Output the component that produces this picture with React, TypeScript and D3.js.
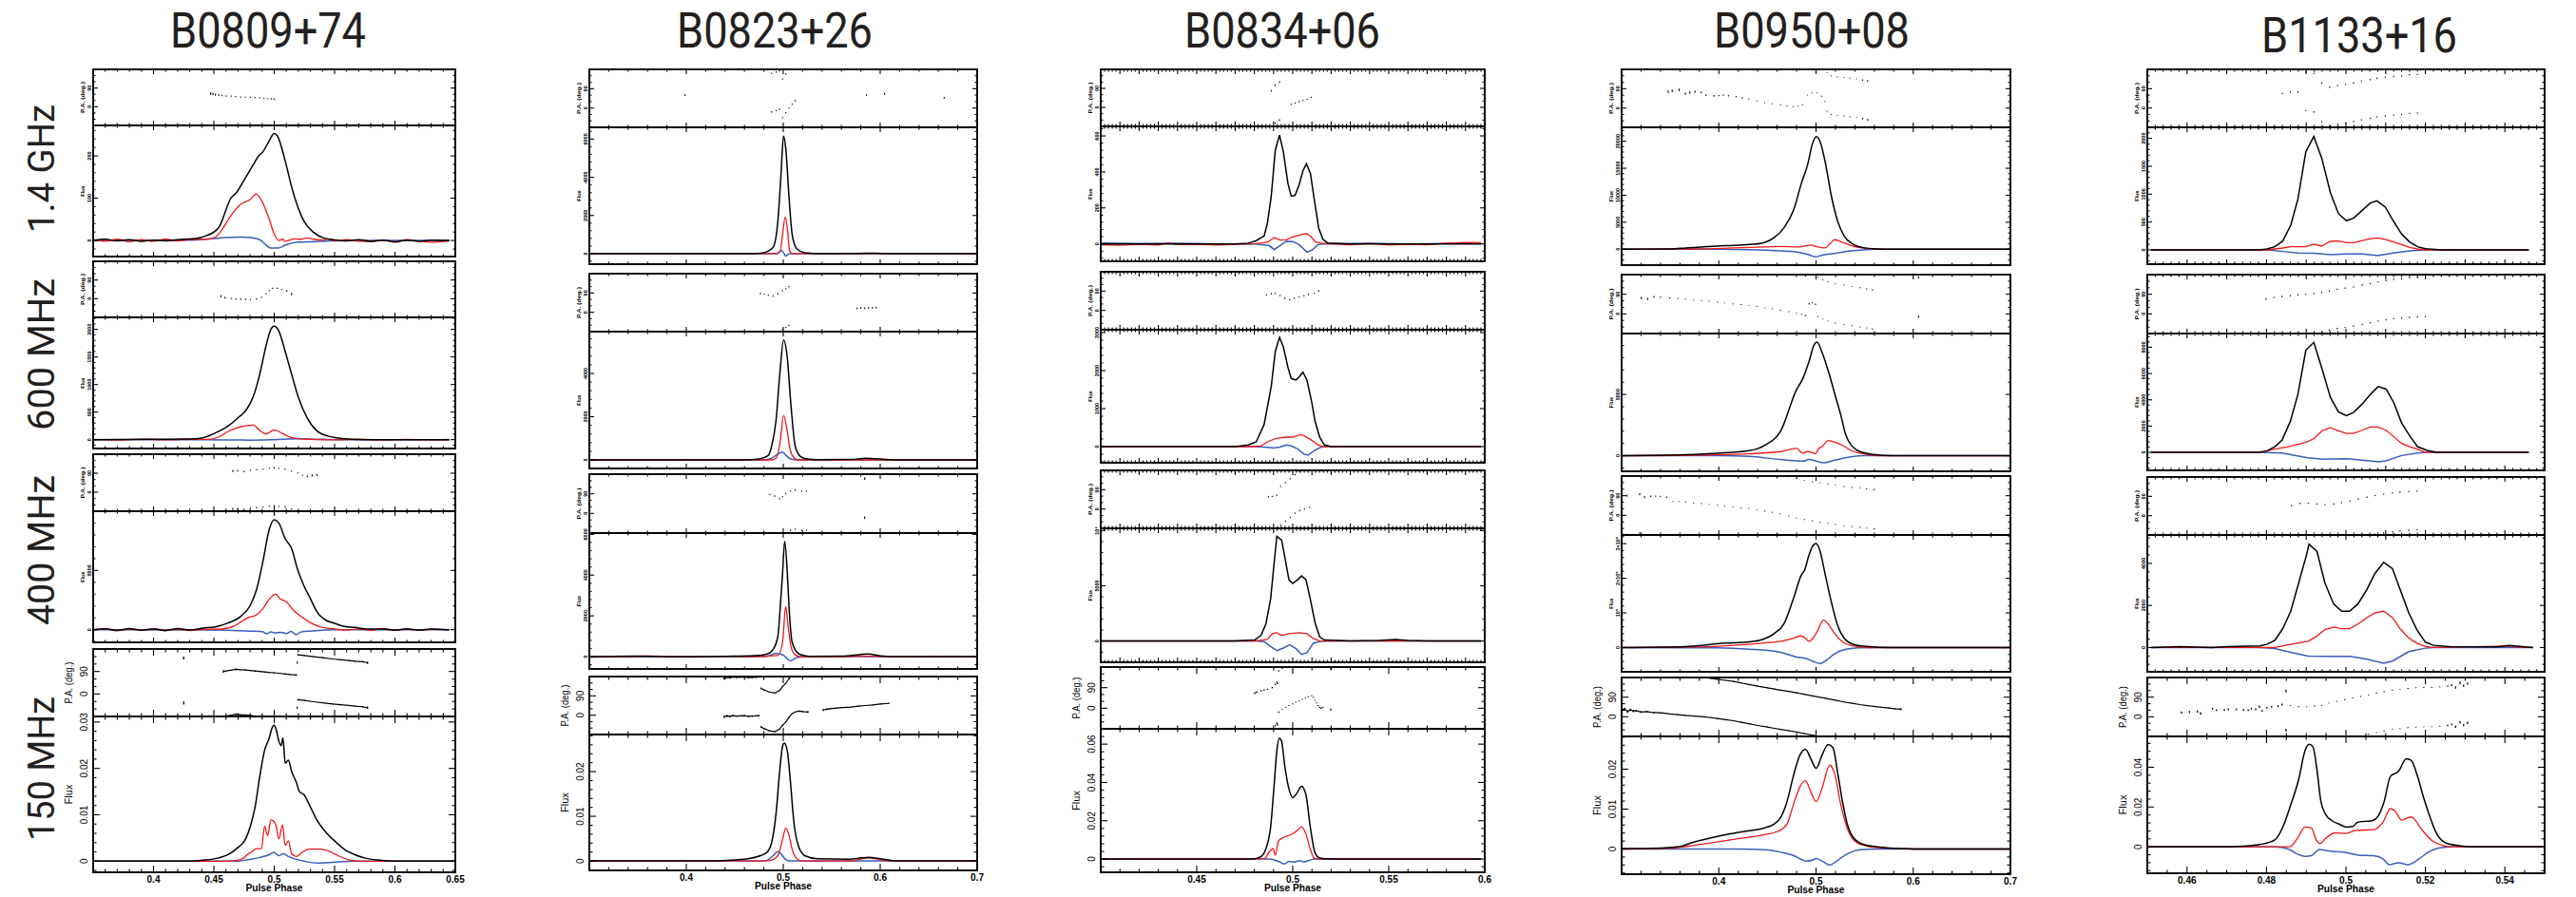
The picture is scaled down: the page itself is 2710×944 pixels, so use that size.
import React from "react";
import * as d3 from "d3";

type Pt = [number, number];
type PaPt = [number, number, number];

// ---------------- titles / labels ----------------
const pulsarNames = ["B0809+74", "B0823+26", "B0834+06", "B0950+08", "B1133+16"];
const bandLabels = ["1.4 GHz", "600 MHz", "400 MHz", "150 MHz"];

// ---------------- B0809+74 ----------------
const i0809_1400: Pt[] = [[0.35,0],[0.36,3],[0.37,-1],[0.38,2],[0.39,-2],[0.40,1],[0.41,-1],[0.42,2],[0.4329,4],[0.4435,11],[0.4539,30],[0.4644,101],[0.4684,112],[0.4749,142],[0.4828,180],[0.4868,199],[0.4907,210],[0.4959,236],[0.4999,253],[0.5025,248],[0.5091,188],[0.5143,128],[0.5196,79],[0.5248,45],[0.5327,19],[0.5406,6],[0.5484,2],[0.56,-1],[0.57,2],[0.58,-2],[0.59,1],[0.60,-3],[0.61,1],[0.62,-2],[0.63,1],[0.645,0]];
const l0809_1400: Pt[] = [[0.35,2],[0.36,-2],[0.37,3],[0.38,-3],[0.39,2],[0.40,-2],[0.41,3],[0.42,-1],[0.43,2],[0.445,3],[0.4513,8],[0.4566,25],[0.4644,60],[0.472,85],[0.480,97],[0.485,110],[0.490,92],[0.4959,50],[0.5,15],[0.504,0],[0.507,3],[0.509,-2],[0.517,4],[0.522,3],[0.5275,6],[0.533,3],[0.54,1],[0.546,4],[0.55,-1],[0.56,2],[0.57,-2],[0.58,-3],[0.59,1],[0.60,-4],[0.61,2],[0.62,-2],[0.63,-4],[0.645,-1]];
const v0809_1400: Pt[] = [[0.35,0],[0.43,1],[0.455,6],[0.47,8],[0.48,7],[0.488,2],[0.493,-10],[0.497,-18],[0.503,-18],[0.51,-10],[0.52,-4],[0.54,-2],[0.56,0],[0.645,0]];
const pa0809_1400: PaPt[] = [[0.4474,63,7],[0.4493,61,6],[0.4513,58,5],[0.454,56,4],[0.4566,54,3],[0.46,52,3],[0.4644,51,3],[0.468,49,3],[0.4723,47,3],[0.476,46,3],[0.4802,46,3],[0.484,44,3],[0.4881,43,3],[0.4915,41,3],[0.4946,39,3],[0.4975,38,3],[0.4999,36,4]];

const i0809_600: Pt[] = [[0.35,0],[0.40,5],[0.43,10],[0.4408,34],[0.4539,150],[0.4618,247],[0.4697,390],[0.4776,563],[0.4828,793],[0.4881,1195],[0.4933,1712],[0.4972,2000],[0.4999,2057],[0.5038,1971],[0.5091,1598],[0.5143,1195],[0.5196,793],[0.5274,390],[0.5353,161],[0.5458,57],[0.5589,17],[0.5747,0],[0.645,0]];
const l0809_600: Pt[] = [[0.35,5],[0.37,-8],[0.39,10],[0.41,-5],[0.43,8],[0.445,5],[0.4539,46],[0.4618,150],[0.4697,218],[0.475,247],[0.4828,264],[0.4868,190],[0.4933,103],[0.4972,150],[0.5,178],[0.505,132],[0.5117,57],[0.5196,17],[0.53,5],[0.55,-5],[0.57,8],[0.59,-6],[0.61,5],[0.63,-4],[0.645,3]];
const v0809_600: Pt[] = [[0.35,0],[0.44,-2],[0.46,-6],[0.48,-8],[0.50,0],[0.52,14],[0.54,5],[0.56,0],[0.645,0]];
const pa0809_600: PaPt[] = [[0.4558,12,5],[0.4592,4,4],[0.4644,1,3],[0.4684,-1,3],[0.4723,-2,3],[0.4762,-3,3],[0.4802,-4,3],[0.4854,-2,3],[0.4894,7,3],[0.4933,24,3],[0.4959,39,3],[0.4986,50,3],[0.5025,50,3],[0.5065,44,3],[0.5104,38,4],[0.5143,22,6]];

const i0809_400: Pt[] = [[0.35,0],[0.36,80],[0.37,-60],[0.38,100],[0.39,-40],[0.40,60],[0.41,-80],[0.42,90],[0.43,-30],[0.4408,134],[0.4513,240],[0.4618,560],[0.4723,1123],[0.4802,2059],[0.4854,3396],[0.4907,5803],[0.4959,8477],[0.4999,9279],[0.5038,9011],[0.5091,7674],[0.5143,6872],[0.5196,5000],[0.5248,3663],[0.5301,2594],[0.5353,1524],[0.5432,775],[0.5484,588],[0.5563,321],[0.5668,187],[0.5773,53],[0.59,60],[0.60,-50],[0.61,70],[0.62,-40],[0.63,50],[0.645,0]];
const l0809_400: Pt[] = [[0.35,-40],[0.36,60],[0.37,-80],[0.38,50],[0.39,-60],[0.40,80],[0.41,-50],[0.42,40],[0.43,-70],[0.44,30],[0.4566,53],[0.467,321],[0.4776,989],[0.4854,1257],[0.4907,1791],[0.4959,2594],[0.5012,2995],[0.5051,2594],[0.5104,2326],[0.5157,1658],[0.5222,1123],[0.5301,588],[0.538,240],[0.5484,80],[0.56,-30],[0.57,60],[0.58,-70],[0.59,100],[0.60,-40],[0.61,50],[0.62,-60],[0.63,40],[0.645,-20]];
const v0809_400: Pt[] = [[0.35,0],[0.44,-20],[0.46,-50],[0.48,-120],[0.49,-160],[0.494,-350],[0.497,-180],[0.50,-260],[0.506,-220],[0.51,-320],[0.514,-150],[0.518,-420],[0.522,-200],[0.53,-120],[0.54,-50],[0.55,0],[0.645,0]];
const pa0809_400: PaPt[] = [[0.4657,101,5],[0.4697,102,4],[0.4749,98,3],[0.4802,104,3],[0.4854,107,3],[0.4907,110,3],[0.4959,113,3],[0.4999,116,3],[0.5038,113,3],[0.5091,109,3],[0.5143,101,3],[0.5196,92,3],[0.5235,79,3],[0.5274,75,4],[0.5314,79,5],[0.5353,82,5]];

const i0809_150: Pt[] = [[0.35,0],[0.43,0],[0.4408,0.0002],[0.4539,0.0007],[0.4618,0.0014],[0.4697,0.0029],[0.4763,0.0048],[0.4802,0.0075],[0.4841,0.0116],[0.4881,0.0184],[0.492,0.0239],[0.4959,0.0266],[0.498,0.0286],[0.4999,0.0293],[0.5017,0.0283],[0.5038,0.0259],[0.5057,0.0249],[0.5072,0.0266],[0.5091,0.0211],[0.5117,0.0218],[0.5143,0.0194],[0.5183,0.0170],[0.5209,0.0150],[0.5248,0.0143],[0.5301,0.0116],[0.5353,0.0089],[0.5432,0.0061],[0.5511,0.0041],[0.5589,0.0024],[0.5668,0.0014],[0.5747,0.0007],[0.5878,0.0002],[0.60,0],[0.65,0]];
const l0809_150: Pt[] = [[0.35,0],[0.46,0],[0.467,0.0001],[0.4749,0.0007],[0.4776,0.0014],[0.4815,0.002],[0.4854,0.0027],[0.4894,0.0027],[0.492,0.0075],[0.4946,0.0055],[0.4972,0.0089],[0.4999,0.0085],[0.5017,0.0075],[0.5038,0.0048],[0.5069,0.0078],[0.5091,0.0034],[0.5117,0.0044],[0.5143,0.0017],[0.5183,0.001],[0.5222,0.0017],[0.5288,0.0026],[0.5353,0.0026],[0.5432,0.0024],[0.5511,0.0014],[0.5616,0.0003],[0.572,0],[0.65,0]];
const v0809_150: Pt[] = [[0.35,0],[0.47,0],[0.4776,0.0003],[0.4881,0.0008],[0.4959,0.0014],[0.4999,0.0019],[0.5038,0.0012],[0.5078,0.0016],[0.5117,0.001],[0.517,0.0005],[0.5248,0],[0.5353,-0.0004],[0.5458,-0.0003],[0.5563,-0.0001],[0.565,0],[0.65,0]];
const pa0809_150: PaPt[] = [[0.425,144,6],[0.4579,90,5],[0.4684,99,3],[0.472,97,2],[0.476,96,2],[0.4802,94,2],[0.484,92,2],[0.488,90,2],[0.492,88,2],[0.496,86,2],[0.4999,85,2],[0.504,83,2],[0.5091,80,2],[0.513,78,2],[0.5183,76,3],[0.519,125,4],[0.5196,157,3],[0.525,154,2],[0.5327,149,2],[0.54,145,2],[0.5484,140,2],[0.555,137,2],[0.5616,134,2],[0.567,131,2],[0.5733,129,3],[0.5773,125,5]];

// ---------------- B0823+26 ----------------
const i0823_1400: Pt[] = [[0.3,0],[0.47,0],[0.4797,50],[0.4895,333],[0.4944,1667],[0.4977,4167],[0.5003,6167],[0.5026,5500],[0.5059,3000],[0.5092,1000],[0.5141,250],[0.5222,50],[0.54,0],[0.58,10],[0.59,25],[0.60,15],[0.62,0],[0.7,0]];
const l0823_1400: Pt[] = [[0.3,0],[0.49,0],[0.4967,83],[0.4993,1000],[0.502,1917],[0.5042,1333],[0.5065,167],[0.51,0],[0.7,0]];
const v0823_1400: Pt[] = [[0.3,0],[0.494,0],[0.4977,167],[0.501,0],[0.5026,-133],[0.506,0],[0.7,0]];
const pa0823_1400: PaPt[] = [[0.3987,60,4],[0.488,-18,3],[0.4928,-12,3],[0.4961,-7,3],[0.4993,-45,3],[0.5026,-22,3],[0.5059,0,3],[0.5092,18,3],[0.5124,33,3],[0.5858,60,4],[0.6045,66,4],[0.666,48,4]];

const i0823_600: Pt[] = [[0.3,0],[0.46,0],[0.475,40],[0.4845,200],[0.4879,615],[0.4925,1800],[0.4965,4000],[0.5003,5540],[0.504,4800],[0.508,2500],[0.5124,615],[0.518,150],[0.525,40],[0.535,10],[0.57,20],[0.585,73],[0.60,40],[0.62,0],[0.7,0]];
const l0823_600: Pt[] = [[0.3,0],[0.488,0],[0.493,100],[0.497,900],[0.5003,2060],[0.5035,1500],[0.507,500],[0.511,100],[0.515,0],[0.7,0]];
const v0823_600: Pt[] = [[0.3,0],[0.48,0],[0.488,80],[0.495,280],[0.499,365],[0.503,200],[0.508,40],[0.515,0],[0.7,0]];
const pa0823_600: PaPt[] = [[0.4765,87,3],[0.4805,84,3],[0.4846,80,3],[0.4895,76,3],[0.4944,86,3],[0.4993,100,3],[0.5026,110,3],[0.5059,119,3],[0.5762,18,4],[0.58,20,4],[0.584,19,4],[0.588,20,4],[0.592,21,4],[0.5958,22,4]];

const i0823_400: Pt[] = [[0.3,0],[0.35,20],[0.40,-15],[0.44,15],[0.4699,50],[0.483,120],[0.4895,360],[0.4944,980],[0.497,2500],[0.4993,4100],[0.5015,5650],[0.5042,4100],[0.5059,2500],[0.5092,700],[0.5157,150],[0.5222,50],[0.53,10],[0.56,20],[0.5876,124],[0.60,40],[0.62,0],[0.7,0]];
const l0823_400: Pt[] = [[0.3,20],[0.33,-20],[0.36,25],[0.40,-10],[0.44,20],[0.47,0],[0.4944,50],[0.4993,700],[0.5025,2450],[0.505,1500],[0.508,500],[0.512,100],[0.518,0],[0.55,-20],[0.58,30],[0.62,-20],[0.66,15],[0.7,0]];
const v0823_400: Pt[] = [[0.3,-20],[0.48,0],[0.486,50],[0.492,150],[0.498,120],[0.502,0],[0.505,-150],[0.508,-200],[0.512,-80],[0.52,0],[0.7,0]];
const pa0823_400: PaPt[] = [[0.4863,87,3],[0.4912,80,3],[0.4961,68,3],[0.4993,76,3],[0.5026,90,3],[0.5075,102,3],[0.5124,107,3],[0.519,102,3],[0.5239,102,3],[0.584,160,6]];

const i0823_150: Pt[] = [[0.3,0],[0.43,0],[0.4373,0.0001],[0.4634,0.0005],[0.4765,0.0012],[0.483,0.0019],[0.4879,0.004],[0.4928,0.0111],[0.4961,0.0196],[0.4993,0.0257],[0.501,0.0264],[0.5042,0.0246],[0.5075,0.0175],[0.5108,0.009],[0.5157,0.0033],[0.5222,0.0012],[0.5353,0.0005],[0.568,0.0004],[0.581,0.0007],[0.5876,0.0008],[0.6007,0.0005],[0.617,0],[0.7,0]];
const l0823_150: Pt[] = [[0.3,0],[0.48,0],[0.4863,0.0001],[0.4944,0.0012],[0.4993,0.0048],[0.5026,0.0074],[0.5059,0.0058],[0.5092,0.0026],[0.5141,0.0005],[0.52,0],[0.57,0],[0.581,0.0005],[0.5876,0.0007],[0.5974,0.0004],[0.61,0],[0.7,0]];
const v0823_150: Pt[] = [[0.3,0],[0.48,0],[0.483,0.0001],[0.4895,0.0012],[0.4944,0.0021],[0.4977,0.0016],[0.5026,0.0003],[0.507,0],[0.7,0]];
const pa0823_150: PaPt[] = [[0.439,-8,5],[0.442,-3,5],[0.445,-6,4],[0.448,-2,4],[0.452,-4,3],[0.456,-3,3],[0.46,-2,3],[0.464,-5,3],[0.468,-4,3],[0.472,-3,3],[0.4748,-2,4],[0.4771,-55,4],[0.4801,-62,3],[0.4853,-72,2],[0.4912,-77,2],[0.4961,-65,2],[0.4993,-47,2],[0.5026,-32,2],[0.5059,-10,2],[0.5092,8,2],[0.5124,15,2],[0.516,19,3],[0.52,17,3],[0.5255,15,4],[0.5412,25,5],[0.545,28,4],[0.548,30,3],[0.555,33,2],[0.5625,36,2],[0.57,38,2],[0.5775,42,2],[0.585,45,2],[0.5925,48,2],[0.6,52,2],[0.6088,55,3]];

// ---------------- B0834+06 ----------------
const i0834_1400: Pt[] = [[0.4,0],[0.47,0],[0.4769,4],[0.481,18],[0.4851,44],[0.4868,115],[0.4888,265],[0.4909,521],[0.4931,605],[0.4951,512],[0.4975,335],[0.4992,265],[0.5012,270],[0.5033,327],[0.5053,406],[0.5071,445],[0.5092,392],[0.5112,247],[0.5135,88],[0.5157,26],[0.5181,5],[0.53,0],[0.598,0]];
const l0834_1400: Pt[] = [[0.4,-5],[0.41,-8],[0.42,-3],[0.43,-6],[0.435,5],[0.44,-4],[0.45,-2],[0.46,-6],[0.47,-3],[0.48,0],[0.4868,9],[0.4904,35],[0.4934,21],[0.4967,23],[0.5,39],[0.505,53],[0.5074,56],[0.5099,35],[0.5116,12],[0.5149,4],[0.52,0],[0.53,-5],[0.54,3],[0.55,-6],[0.56,-2],[0.57,-5],[0.58,4],[0.59,8],[0.598,6]];
const v0834_1400: Pt[] = [[0.4,5],[0.42,2],[0.44,4],[0.46,0],[0.48,0],[0.4876,-9],[0.4904,-32],[0.4934,-9],[0.4967,14],[0.5,12],[0.5033,-4],[0.5074,-46],[0.5099,-35],[0.5132,-4],[0.516,0],[0.54,4],[0.56,0],[0.58,2],[0.598,4]];
const pa0834_1400: PaPt[] = [[0.4888,78,4],[0.4909,105,4],[0.4931,120,4],[0.4992,15,3],[0.5012,21,3],[0.5033,27,3],[0.5053,33,3],[0.5074,39,3],[0.5096,48,3]];

const i0834_600: Pt[] = [[0.4,0],[0.47,0],[0.4769,42],[0.481,125],[0.4851,583],[0.4888,1583],[0.4909,2500],[0.4931,2875],[0.4951,2625],[0.4975,2083],[0.4992,1792],[0.5017,1750],[0.5033,1833],[0.5053,1958],[0.5074,1750],[0.5099,1167],[0.5116,667],[0.514,250],[0.5165,42],[0.52,0],[0.598,0]];
const l0834_600: Pt[] = [[0.4,0],[0.48,0],[0.4835,17],[0.4868,125],[0.4909,208],[0.4967,250],[0.5,250],[0.5041,317],[0.5058,292],[0.5099,167],[0.5132,42],[0.516,0],[0.598,0]];
const v0834_600: Pt[] = [[0.4,0],[0.48,0],[0.4868,-20],[0.49,-40],[0.4934,-10],[0.4967,45],[0.4992,20],[0.5025,-60],[0.506,-200],[0.508,-225],[0.5115,-100],[0.5148,-10],[0.518,0],[0.598,0]];
const pa0834_600: PaPt[] = [[0.4863,72,3],[0.4888,78,3],[0.4909,80,3],[0.4934,69,3],[0.4959,57,3],[0.4984,50,3],[0.5008,57,3],[0.5033,62,3],[0.5058,68,3],[0.5082,75,3],[0.5112,80,3],[0.5135,90,4]];

const i0834_400: Pt[] = [[0.4,0],[0.47,0],[0.4802,86],[0.4835,517],[0.486,1523],[0.4885,3822],[0.4901,6696],[0.4917,9484],[0.4942,9139],[0.4959,7558],[0.498,5547],[0.5,5202],[0.5025,5547],[0.5046,5892],[0.5069,5547],[0.5091,3822],[0.5116,1667],[0.514,374],[0.5165,86],[0.53,0],[0.545,60],[0.5536,144],[0.56,50],[0.57,0],[0.598,0]];
const l0834_400: Pt[] = [[0.4,0],[0.48,0],[0.4868,144],[0.4893,661],[0.4917,747],[0.4942,517],[0.4983,661],[0.5033,747],[0.5074,661],[0.5107,230],[0.514,29],[0.52,0],[0.598,0]];
const v0834_400: Pt[] = [[0.4,0],[0.48,0],[0.4851,-57],[0.4885,-489],[0.4917,-862],[0.4951,-632],[0.4983,-345],[0.5017,-690],[0.5046,-1207],[0.5074,-1063],[0.5107,-201],[0.514,-29],[0.52,0],[0.598,0]];
const pa0834_400: PaPt[] = [[0.4873,57,3],[0.4893,59,3],[0.4917,64,3],[0.4937,-75,3],[0.4962,-57,3],[0.4987,-39,3],[0.5012,-20,3],[0.5036,-7,3],[0.5061,0,3],[0.5088,7,3]];

const i0834_150: Pt[] = [[0.4,0],[0.47,0],[0.4802,0.0002],[0.4835,0.0013],[0.486,0.0054],[0.4885,0.017],[0.4904,0.04],[0.4917,0.0565],[0.4931,0.063],[0.4942,0.0614],[0.4959,0.0482],[0.498,0.0367],[0.5,0.0321],[0.502,0.0342],[0.5046,0.038],[0.5069,0.0334],[0.5091,0.017],[0.5112,0.0046],[0.5132,0.001],[0.5165,0.0002],[0.53,0],[0.598,0]];
const l0834_150: Pt[] = [[0.4,0],[0.48,0],[0.4851,0.0002],[0.4881,0.0041],[0.4898,0.0054],[0.4909,0.0021],[0.4926,0.0095],[0.4951,0.0112],[0.4992,0.0128],[0.5025,0.015],[0.5046,0.017],[0.5066,0.0137],[0.5091,0.0054],[0.5112,0.0005],[0.515,0],[0.598,0]];
const v0834_150: Pt[] = [[0.4,0],[0.4868,0],[0.4926,-0.0012],[0.4954,-0.0025],[0.4984,-0.0012],[0.5008,-0.0016],[0.5033,-0.0008],[0.5058,-0.0015],[0.5082,-0.0008],[0.5115,0],[0.598,0]];
const pa0834_150: PaPt[] = [[0.4802,66,4],[0.4812,70,4],[0.4835,76,3],[0.4851,79,3],[0.4868,83,3],[0.4893,90,3],[0.4909,104,3],[0.4917,114,3],[0.492,-71,4],[0.4927,-17,3],[0.4945,-6,2],[0.4963,4,2],[0.498,12,2],[0.5,19,2],[0.5016,26,2],[0.5033,33,2],[0.505,39,2],[0.5066,44,2],[0.5082,50,2],[0.5099,54,2],[0.5107,47,2],[0.5115,35,2],[0.5124,23,2],[0.5132,12,2],[0.514,4,3],[0.5148,0,3],[0.5157,4,3],[0.5198,-6,4]];

// ---------------- B0950+08 ----------------
const i0950_1400: Pt[] = [[0.3,0],[0.3496,60],[0.3659,235],[0.3822,410],[0.3985,590],[0.4148,705],[0.4311,880],[0.4441,1120],[0.4572,2175],[0.4669,3940],[0.4767,7170],[0.4849,12170],[0.4914,15700],[0.4963,19520],[0.5002,20870],[0.5044,19815],[0.5093,16290],[0.5158,9820],[0.5224,5115],[0.5289,2470],[0.5387,880],[0.5484,295],[0.5615,60],[0.58,0],[0.7,0]];
const l0950_1400: Pt[] = [[0.3,0],[0.3822,60],[0.4148,235],[0.4474,410],[0.4637,530],[0.4832,410],[0.4897,650],[0.4946,765],[0.4995,530],[0.5093,235],[0.5142,1000],[0.5191,1765],[0.5256,1410],[0.5354,705],[0.5452,295],[0.5582,60],[0.57,0],[0.7,0]];
const v0950_1400: Pt[] = [[0.3,0],[0.3985,0],[0.4311,-60],[0.4637,-295],[0.4832,-590],[0.493,-1060],[0.4995,-1410],[0.506,-1120],[0.5191,-765],[0.5289,-470],[0.5452,-175],[0.5615,0],[0.7,0]];
const pa0950_1400: PaPt[] = [[0.3479,75,6],[0.352,80,6],[0.3591,84,6],[0.3656,67,5],[0.37,72,5],[0.3754,75,5],[0.3819,72,4],[0.3868,60,4],[0.3949,57,4],[0.4,58,3],[0.4047,60,3],[0.41,57,3],[0.4178,52,3],[0.424,47,3],[0.4308,42,2],[0.439,33,2],[0.4471,25,2],[0.455,20,2],[0.4634,15,2],[0.47,11,2],[0.4765,7,2],[0.4815,9,2],[0.4862,15,2],[0.4911,60,2],[0.496,70,2],[0.5009,72,2],[0.5058,55,2],[0.5091,30,2],[0.5113,-15,2],[0.5156,-30,2],[0.522,-34,2],[0.5286,-37,2],[0.535,-41,2],[0.5417,-45,2],[0.548,-50,3],[0.5531,-55,4]];

const i0950_600: Pt[] = [[0.3,0],[0.3658,78],[0.3984,202],[0.431,412],[0.4473,855],[0.4636,2022],[0.4799,5389],[0.4864,6299],[0.4929,7721],[0.4978,9020],[0.501,9277],[0.5059,8499],[0.5125,6944],[0.519,5132],[0.5255,3313],[0.5304,1757],[0.5418,467],[0.5516,202],[0.5614,78],[0.5777,0],[0.7,0]];
const l0950_600: Pt[] = [[0.3,0],[0.3984,78],[0.431,156],[0.4636,334],[0.4799,591],[0.4864,202],[0.4913,334],[0.4962,257],[0.4994,156],[0.5027,591],[0.5059,723],[0.5125,1244],[0.519,1112],[0.5288,778],[0.5353,450],[0.545,200],[0.555,78],[0.565,0],[0.7,0]];
const v0950_600: Pt[] = [[0.3,0],[0.4,0],[0.431,-54],[0.4636,-311],[0.4864,-443],[0.4929,-311],[0.5075,-575],[0.519,-365],[0.5353,-100],[0.5516,0],[0.7,0]];
const pa0950_600: PaPt[] = [[0.3202,73,5],[0.3267,68,5],[0.3332,78,4],[0.34,76,3],[0.3495,73,3],[0.358,70,2],[0.3658,68,2],[0.374,65,2],[0.3821,61,2],[0.39,58,2],[0.3984,54,2],[0.406,50,2],[0.4147,46,2],[0.423,43,2],[0.431,39,2],[0.439,34,2],[0.4473,28,2],[0.455,23,2],[0.4636,17,2],[0.472,10,2],[0.4799,3,2],[0.485,-2,2],[0.489,-7,3],[0.4929,46,3],[0.4962,51,3],[0.4995,44,3],[0.502,-12,2],[0.507,-24,2],[0.5125,-33,2],[0.52,-41,2],[0.5288,-48,2],[0.537,-54,2],[0.5451,-60,2],[0.552,-65,2],[0.5581,-70,3],[0.6055,-13,5]];

const i0950_400: Pt[] = [[0.3,0],[0.3658,2727],[0.3821,6363],[0.3984,10900],[0.4147,13600],[0.431,16400],[0.4441,22700],[0.4571,40900],[0.4669,68200],[0.4767,141000],[0.4848,209000],[0.4881,223000],[0.4929,268000],[0.4962,291000],[0.5001,300000],[0.5043,277000],[0.5092,214000],[0.5157,132000],[0.5222,63600],[0.5288,27300],[0.5386,9090],[0.5516,3636],[0.5777,0],[0.7,0]];
const l0950_400: Pt[] = [[0.3,0],[0.3821,1800],[0.4147,6360],[0.4473,13600],[0.4636,18200],[0.4767,27300],[0.4848,33600],[0.4897,24500],[0.4929,18200],[0.4962,24500],[0.501,45400],[0.5076,79000],[0.5125,68200],[0.519,40900],[0.5288,13600],[0.5386,4545],[0.5549,0],[0.7,0]];
const v0950_400: Pt[] = [[0.3,0],[0.3984,-909],[0.431,-4545],[0.4636,-13600],[0.4799,-27300],[0.4897,-31800],[0.4962,-39000],[0.5043,-46400],[0.5108,-36400],[0.519,-18200],[0.5288,-6360],[0.5451,-909],[0.5614,0],[0.7,0]];
const pa0950_400: PaPt[] = [[0.3056,90,5],[0.3186,97,5],[0.3235,83,4],[0.33,87,4],[0.335,88,3],[0.3398,87,3],[0.3463,83,3],[0.3528,65,2],[0.359,63,2],[0.3658,61,2],[0.374,57,2],[0.3821,54,2],[0.39,50,2],[0.3984,46,2],[0.406,42,2],[0.4147,39,2],[0.423,35,2],[0.431,32,2],[0.439,26,2],[0.4473,20,2],[0.455,14,2],[0.4636,7,2],[0.472,-3,2],[0.4799,-12,2],[0.488,-19,2],[0.4962,-26,2],[0.504,-31,2],[0.5125,-36,2],[0.52,-42,2],[0.5288,-48,2],[0.537,-52,2],[0.5451,-55,2],[0.552,-59,2],[0.5598,-62,3]];

const i0950_150: Pt[] = [[0.3,0.0001],[0.3333,0.0002],[0.3594,0.0006],[0.3724,0.0016],[0.392,0.0028],[0.4115,0.0038],[0.431,0.0046],[0.4473,0.0053],[0.4571,0.0063],[0.4636,0.0079],[0.4702,0.0119],[0.4767,0.0183],[0.4832,0.0234],[0.4891,0.025],[0.4946,0.0226],[0.5002,0.0202],[0.506,0.0234],[0.5125,0.0262],[0.5174,0.0254],[0.5223,0.019],[0.5272,0.0119],[0.5321,0.0063],[0.5386,0.0028],[0.5484,0.0012],[0.5614,0.0006],[0.581,0.0002],[0.62,0],[0.7,0]];
const l0950_150: Pt[] = [[0.3,0],[0.3496,0.0002],[0.3822,0.0012],[0.4148,0.0024],[0.4473,0.0036],[0.4604,0.0044],[0.4702,0.0063],[0.4767,0.0111],[0.4832,0.0155],[0.4891,0.0171],[0.4946,0.0143],[0.5002,0.0119],[0.506,0.0151],[0.5141,0.021],[0.519,0.019],[0.5255,0.0111],[0.5321,0.0052],[0.5419,0.0016],[0.5549,0.0006],[0.5777,0.0002],[0.6,0],[0.7,0]];
const v0950_150: Pt[] = [[0.3,0],[0.42,0],[0.4473,-0.0002],[0.4636,-0.0008],[0.4767,-0.0016],[0.4897,-0.003],[0.4962,-0.0028],[0.5002,-0.0024],[0.506,-0.003],[0.5141,-0.004],[0.5223,-0.0028],[0.5321,-0.0012],[0.5451,-0.0002],[0.5614,0],[0.7,0]];
const pa0950_150: PaPt[] = [[0.300,30,6],[0.303,36,6],[0.306,24,6],[0.309,32,5],[0.312,26,5],[0.315,28,4],[0.32,22,4],[0.326,24,3],[0.333,19,3],[0.34,18,2],[0.35,13,2],[0.358,10,2],[0.366,6,2],[0.375,3,2],[0.385,0,2],[0.392,-4,2],[0.3985,-8,2],[0.407,-13,2],[0.415,-18,2],[0.423,-25,2],[0.431,-32,2],[0.44,-40,2],[0.45,-47,2],[0.457,-53,2],[0.4636,-58,2],[0.472,-64,2],[0.48,-70,2],[0.488,-77,2],[0.4962,-84,2],[0.503,-90,2],[0.51,-95,2],[0.52,-104,2],[0.5287,-112,2],[0.537,-118,2],[0.545,-124,2],[0.553,-129,2],[0.5613,-133,2],[0.568,-137,2],[0.575,-140,3],[0.581,-143,4],[0.5874,-145,5]];

// ---------------- B1133+16 ----------------
const i1133_1400: Pt[] = [[0.451,0],[0.4782,0],[0.4801,17],[0.4821,57],[0.4841,159],[0.4861,443],[0.4879,909],[0.4899,1761],[0.4919,2034],[0.4939,1647],[0.4961,1022],[0.4981,653],[0.5001,523],[0.5019,568],[0.5041,710],[0.5061,841],[0.5078,880],[0.5099,767],[0.512,511],[0.514,284],[0.516,142],[0.518,57],[0.52,23],[0.524,0],[0.546,0]];
const l1133_1400: Pt[] = [[0.451,0],[0.48,0],[0.4821,17],[0.4841,34],[0.4861,57],[0.488,57],[0.4899,57],[0.4919,102],[0.4939,68],[0.496,153],[0.4981,159],[0.5001,131],[0.5021,131],[0.5041,170],[0.5061,199],[0.508,216],[0.51,187],[0.512,142],[0.514,97],[0.516,45],[0.518,17],[0.52,0],[0.546,0]];
const v1133_1400: Pt[] = [[0.451,0],[0.4801,0],[0.4841,-28],[0.488,-57],[0.4919,-62],[0.4961,-85],[0.5001,-74],[0.5041,-74],[0.508,-102],[0.512,-57],[0.516,-17],[0.52,0],[0.546,0]];
const pa1133_1400: PaPt[] = [[0.484,68,3],[0.486,75,3],[0.4879,75,3],[0.4899,-12,3],[0.4919,-18,3],[0.4939,117,3],[0.4959,97,3],[0.4979,105,3],[0.4999,110,3],[0.5019,117,3],[0.5039,125,3],[0.5061,132,3],[0.5078,138,3],[0.5099,143,3],[0.512,147,3],[0.514,150,3],[0.516,155,3],[0.518,156,3]];

const i1133_600: Pt[] = [[0.451,0],[0.4782,0],[0.4801,100],[0.4821,433],[0.4839,917],[0.486,2360],[0.4879,4404],[0.4899,7776],[0.4919,8375],[0.494,6332],[0.4961,4166],[0.4981,3083],[0.5001,2794],[0.5019,3032],[0.5041,3682],[0.5061,4404],[0.5081,5004],[0.5101,4815],[0.512,3805],[0.514,2238],[0.516,1278],[0.518,433],[0.5204,144],[0.5228,0],[0.546,0]];
const l1133_600: Pt[] = [[0.451,0],[0.4782,0],[0.4821,250],[0.4855,433],[0.4901,794],[0.4919,1035],[0.494,1639],[0.4961,1877],[0.4981,1639],[0.5001,1444],[0.5019,1444],[0.5041,1684],[0.5061,1928],[0.5081,1928],[0.5101,1684],[0.512,1206],[0.514,674],[0.516,433],[0.518,250],[0.52,0],[0.546,0]];
const v1133_600: Pt[] = [[0.451,0],[0.4782,0],[0.4839,-48],[0.4903,-410],[0.4943,-530],[0.5001,-482],[0.5061,-650],[0.5081,-722],[0.5101,-650],[0.514,-241],[0.518,-48],[0.52,0],[0.546,0]];
const pa1133_600: PaPt[] = [[0.4799,68,3],[0.4819,75,3],[0.4839,80,3],[0.486,83,3],[0.4879,87,3],[0.4899,90,3],[0.4919,93,3],[0.4939,98,3],[0.4958,105,3],[0.4978,113,3],[0.4998,118,3],[0.5019,124,3],[0.5041,132,3],[0.5061,139,3],[0.5081,147,3],[0.5101,153,3],[0.512,158,3],[0.514,161,3],[0.516,164,3],[0.518,166,3],[0.52,168,3]];

const i1133_400: Pt[] = [[0.451,0],[0.4582,45],[0.4662,0],[0.4702,45],[0.4782,75],[0.4801,150],[0.4821,345],[0.4841,899],[0.4861,1723],[0.4881,3071],[0.4901,4419],[0.4907,4913],[0.4927,4569],[0.4947,3071],[0.4969,2067],[0.4989,1723],[0.5009,1723],[0.503,2067],[0.5053,2771],[0.5073,3520],[0.5095,4045],[0.5117,3745],[0.5136,2771],[0.5158,1648],[0.5179,824],[0.52,255],[0.522,105],[0.526,45],[0.538,30],[0.5411,105],[0.5471,0]];
const l1133_400: Pt[] = [[0.451,0],[0.4821,0],[0.4861,150],[0.4905,300],[0.4925,524],[0.4947,854],[0.4969,974],[0.4989,899],[0.501,899],[0.5031,1124],[0.5053,1423],[0.5073,1648],[0.5095,1723],[0.5117,1423],[0.5136,899],[0.5158,449],[0.5179,195],[0.52,45],[0.522,0],[0.5411,75],[0.5443,0],[0.5471,0]];
const v1133_400: Pt[] = [[0.451,0],[0.4782,0],[0.4821,-45],[0.4861,-225],[0.4905,-404],[0.4947,-419],[0.501,-419],[0.5053,-554],[0.5095,-749],[0.5117,-644],[0.5158,-195],[0.52,-30],[0.522,0],[0.5471,0]];
const pa1133_400: PaPt[] = [[0.4863,46,3],[0.4884,57,3],[0.4905,58,3],[0.4927,54,3],[0.4947,51,3],[0.4969,54,3],[0.4989,61,3],[0.501,68,3],[0.5031,78,3],[0.5053,86,3],[0.5073,94,3],[0.5095,100,3],[0.5117,105,3],[0.5136,109,3],[0.5158,112,3],[0.5179,115,3]];

const i1133_150: Pt[] = [[0.45,0],[0.47,0],[0.4742,0.0003],[0.4782,0.0011],[0.4821,0.0035],[0.4841,0.0099],[0.4861,0.0211],[0.4881,0.0339],[0.4897,0.0483],[0.4907,0.0515],[0.4917,0.0502],[0.4927,0.0387],[0.4937,0.0227],[0.4949,0.0163],[0.4965,0.0131],[0.4985,0.0112],[0.5001,0.0099],[0.5017,0.0102],[0.5029,0.0123],[0.5049,0.0128],[0.5065,0.0131],[0.5077,0.0144],[0.5096,0.0227],[0.5112,0.0355],[0.5132,0.0379],[0.5152,0.0443],[0.5164,0.0435],[0.518,0.0355],[0.5196,0.0243],[0.5212,0.0147],[0.5228,0.0067],[0.5252,0.0019],[0.5284,0.0006],[0.5324,0],[0.55,0]];
const l1133_150: Pt[] = [[0.45,0],[0.4858,0],[0.4878,0.0043],[0.4897,0.0099],[0.4913,0.0094],[0.4925,0.0035],[0.4935,0.0016],[0.4949,0.0043],[0.4973,0.007],[0.5001,0.0067],[0.5025,0.0083],[0.5069,0.0086],[0.5093,0.0123],[0.5112,0.0192],[0.5124,0.0179],[0.514,0.0134],[0.5164,0.015],[0.5192,0.0083],[0.5216,0.0032],[0.5244,0.0006],[0.5268,0],[0.55,0]];
const v1133_150: Pt[] = [[0.45,0],[0.4821,0],[0.4853,-0.001],[0.4878,-0.0037],[0.4897,-0.0048],[0.4913,-0.0045],[0.4933,-0.0013],[0.4957,-0.0021],[0.5001,-0.0029],[0.5033,-0.0042],[0.5069,-0.0045],[0.5093,-0.0061],[0.5109,-0.009],[0.5132,-0.008],[0.5156,-0.009],[0.5184,-0.0061],[0.5208,-0.0026],[0.5236,-0.0005],[0.5268,0],[0.55,0]];
const pa1133_150: PaPt[] = [[0.4586,19,5],[0.4606,22,5],[0.4626,24,5],[0.4634,15,6],[0.4664,37,4],[0.4674,30,4],[0.4694,30,4],[0.4704,34,4],[0.4724,34,4],[0.4742,31,4],[0.4754,30,4],[0.4762,37,4],[0.4773,34,4],[0.4782,46,5],[0.4789,27,4],[0.4801,41,4],[0.4813,46,4],[0.4829,49,4],[0.4839,56,4],[0.4849,119,6],[0.486,52,2],[0.4881,46,2],[0.4901,46,2],[0.4921,49,2],[0.4939,52,2],[0.4957,63,2],[0.4977,71,2],[0.4997,78,2],[0.5017,86,2],[0.5037,93,2],[0.5057,100,2],[0.5077,108,2],[0.5096,115,2],[0.5117,122,2],[0.5136,125,2],[0.5156,130,2],[0.5176,133,2],[0.5196,134,2],[0.5216,134,2],[0.5236,137,2],[0.5256,140,3],[0.5266,145,4],[0.5276,134,5],[0.5287,155,6],[0.5296,142,5],[0.5306,152,5]];

// ---------------- axes (values) ----------------
const xDomains: [number, number][] = [[0.35, 0.65], [0.3, 0.7], [0.4, 0.6], [0.3, 0.7], [0.45, 0.55]];
const xTickLabels: number[][] = [[0.4, 0.45, 0.5, 0.55, 0.6, 0.65], [0.4, 0.5, 0.6, 0.7], [0.45, 0.5, 0.55, 0.6], [0.4, 0.5, 0.6, 0.7], [0.46, 0.48, 0.5, 0.52, 0.54]];
const paDomain: [number, number] = [-90, 180];
const paTickLabels = [0, 90];

const fluxDomains: [number, number][][] = [
  [[-38, 272], [-161, 2218], [-1070, 10000], [-0.0024, 0.0312]],
  [[-550, 6617], [-396, 5934], [-605, 6062], [-0.0021, 0.0283]],
  [[-97, 653], [-425, 3075], [-1925, 10200], [-0.0069, 0.068]],
  [[-2940, 22580], [-1275, 9977], [-70000, 325000], [-0.0063, 0.0282]],
  [[-256, 2199], [-1372, 9047], [-1153, 5348], [-0.0133, 0.0555]],
];
const fluxTicks: number[][][] = [
  [[0, 100, 200], [0, 500, 1000, 1500, 2000], [0, 5000], [0, 0.01, 0.02, 0.03]],
  [[0, 2000, 4000, 6000], [0, 2000, 4000], [0, 2000, 4000, 6000], [0, 0.01, 0.02]],
  [[0, 200, 400, 600], [0, 1000, 2000, 3000], [0, 5000, 10000], [0, 0.02, 0.04, 0.06]],
  [[0, 5000, 10000, 15000, 20000], [0, 5000], [0, 100000, 200000, 300000], [0, 0.01, 0.02]],
  [[0, 500, 1000, 1500, 2000], [0, 2000, 4000, 6000, 8000], [0, 2000, 4000], [0, 0.02, 0.04]],
];

const PROFILES = [
  [
    { I: i0809_1400, L: l0809_1400, V: v0809_1400, PA: pa0809_1400 },
    { I: i0809_600, L: l0809_600, V: v0809_600, PA: pa0809_600 },
    { I: i0809_400, L: l0809_400, V: v0809_400, PA: pa0809_400 },
    { I: i0809_150, L: l0809_150, V: v0809_150, PA: pa0809_150 },
  ],
  [
    { I: i0823_1400, L: l0823_1400, V: v0823_1400, PA: pa0823_1400 },
    { I: i0823_600, L: l0823_600, V: v0823_600, PA: pa0823_600 },
    { I: i0823_400, L: l0823_400, V: v0823_400, PA: pa0823_400 },
    { I: i0823_150, L: l0823_150, V: v0823_150, PA: pa0823_150 },
  ],
  [
    { I: i0834_1400, L: l0834_1400, V: v0834_1400, PA: pa0834_1400 },
    { I: i0834_600, L: l0834_600, V: v0834_600, PA: pa0834_600 },
    { I: i0834_400, L: l0834_400, V: v0834_400, PA: pa0834_400 },
    { I: i0834_150, L: l0834_150, V: v0834_150, PA: pa0834_150 },
  ],
  [
    { I: i0950_1400, L: l0950_1400, V: v0950_1400, PA: pa0950_1400 },
    { I: i0950_600, L: l0950_600, V: v0950_600, PA: pa0950_600 },
    { I: i0950_400, L: l0950_400, V: v0950_400, PA: pa0950_400 },
    { I: i0950_150, L: l0950_150, V: v0950_150, PA: pa0950_150 },
  ],
  [
    { I: i1133_1400, L: l1133_1400, V: v1133_1400, PA: pa1133_1400 },
    { I: i1133_600, L: l1133_600, V: v1133_600, PA: pa1133_600 },
    { I: i1133_400, L: l1133_400, V: v1133_400, PA: pa1133_400 },
    { I: i1133_150, L: l1133_150, V: v1133_150, PA: pa1133_150 },
  ],
];

// ---------------- layout (positions / styles) ----------------
const LAYOUT = [
  { left: 98, right: 479, titleX: 282, titleY: 50, rows: [[73, 132, 270], [275, 334, 472], [478, 538, 676], [683, 754, 918]], top: [0.05, 0.01], bot: [0.05, 0.01], linear: false, paLine: true },
  { left: 620, right: 1028, titleX: 815, titleY: 50, rows: [[73, 134, 278], [288, 349, 493], [499, 561, 704], [712, 773, 916]], top: [0.1, 0.02], bot: [0.1, 0.02], linear: false, paLine: true },
  { left: 1158, right: 1562, titleX: 1349, titleY: 50, rows: [[73, 133, 275], [286, 347, 487], [495, 556, 697], [702, 767, 918]], top: [0.01, 0.002], bot: [0.05, 0.01], linear: true, paLine: false },
  { left: 1706, right: 2115, titleX: 1906, titleY: 50, rows: [[73, 134, 279], [289, 351, 496], [501, 563, 707], [713, 775, 920]], top: [0.1, 0.02], bot: [0.1, 0.02], linear: false, paLine: true },
  { left: 2259, right: 2677, titleX: 2482, titleY: 55, rows: [[73, 134, 278], [289, 351, 495], [502, 563, 707], [713, 775, 919]], top: [0.01, 0.002], bot: [0.02, 0.005], linear: true, paLine: false },
];
const ROW_LABEL = { x: 57, cy: [177.5, 373, 579, 809], len: [135, 160, 158, 152] };

const BLACK = "#000000";
const RED = "#f01818";
const BLUE = "#3c5cbc";
const TITLE_FONT = "Roboto, 'Liberation Sans', sans-serif";
const SMALL_FONT = "'Liberation Sans', Arial, sans-serif";
const NARROW_FONT = "'Liberation Sans Narrow', 'Liberation Sans', Arial, sans-serif";

function stepTicks(d0: number, d1: number, step: number): number[] {
  const out: number[] = [];
  const n0 = Math.ceil(d0 / step - 1e-6);
  const n1 = Math.floor(d1 / step + 1e-6);
  for (let n = n0; n <= n1; n++) out.push(+(n * step).toFixed(10));
  return out;
}

function isMultiple(v: number, step: number) {
  const r = v / step;
  return Math.abs(r - Math.round(r)) < 1e-6;
}

function fmtFlux(v: number, sci4: boolean): string {
  if (v === 0) return "0";
  if (sci4 && v === 10000) return "10⁴";
  if (v >= 100000) {
    const m = Math.round(v / 100000);
    return m === 1 ? "10⁵" : `${m}×10⁵`;
  }
  return String(v);
}

function Panel({ ci, ri }: { ci: number; ri: number }) {
  const lay = LAYOUT[ci];
  const [paTop, divider, bottom] = lay.rows[ri];
  const isBottom = ri === 3;
  const prof = PROFILES[ci][ri];
  const x = d3.scaleLinear().domain(xDomains[ci]).range([lay.left, lay.right]);
  const yPA = d3.scaleLinear().domain(paDomain).range([divider, paTop]);
  const yF = d3.scaleLinear().domain(fluxDomains[ci][ri]).range([bottom, divider]);
  const curve = lay.linear && !isBottom ? d3.curveLinear : d3.curveMonotoneX;
  const line = d3.line<Pt>().x((d) => x(d[0])).y((d) => yF(d[1])).curve(curve);

  const [xMaj, xMin] = isBottom ? lay.bot : lay.top;
  const xd = xDomains[ci];
  const xMinorTicks = stepTicks(xd[0], xd[1], xMin);
  const majLen = isBottom ? 7 : 5;
  const minLen = isBottom ? 3.5 : 2.5;

  const ticksFor = (yTop: number, yBot: number) =>
    xMinorTicks.map((t, i) => {
      const len = isMultiple(t, xMaj) ? majLen : minLen;
      const px = x(t);
      return (
        <g key={i}>
          <line x1={px} x2={px} y1={yTop} y2={yTop + len} stroke={BLACK} strokeWidth={1.1} />
          <line x1={px} x2={px} y1={yBot} y2={yBot - len} stroke={BLACK} strokeWidth={1.1} />
        </g>
      );
    });

  const ft = fluxTicks[ci][ri];
  const fStep = ft[1] - ft[0];
  const fd = fluxDomains[ci][ri];
  const fMinor = stepTicks(fd[0], fd[1], fStep / 5);
  const paMinor = stepTicks(-90, 180, 30);

  const yTicks = (vals: number[], scale: any, majStep: number, yTop: number, yBot: number) =>
    vals
      .filter((v) => scale(v) > yTop + 0.5 && scale(v) < yBot - 0.5)
      .map((v, i) => {
        const len = isMultiple(v, majStep) ? majLen : minLen;
        const py = scale(v);
        return (
          <g key={i}>
            <line x1={lay.left} x2={lay.left + len} y1={py} y2={py} stroke={BLACK} strokeWidth={1.1} />
            <line x1={lay.right} x2={lay.right - len} y1={py} y2={py} stroke={BLACK} strokeWidth={1.1} />
          </g>
        );
      });

  const clipPA = `clip-pa-${ci}-${ri}`;
  const clipF = `clip-f-${ci}-${ri}`;

  // PA markers, drawn with their ±180° copies
  const paMarks: any[] = [];
  prof.PA.forEach((p, i) => {
    for (let k = -1; k <= 2; k++) {
      const v = p[1] + 180 * k;
      if (v < -95 || v > 185) continue;
      const e = p[2];
      paMarks.push(
        <line key={`${i}-${k}`} x1={x(p[0])} x2={x(p[0])} y1={yPA(v - e)} y2={yPA(v + e)} stroke={BLACK} strokeWidth={isBottom ? 1.3 : 1.1} />
      );
    }
  });
  const paPaths: any[] = [];
  if (isBottom && lay.paLine) {
    const segs: PaPt[][] = [];
    let cur: PaPt[] = [];
    prof.PA.forEach((p, i) => {
      const prev = prof.PA[i - 1];
      if (prev && p[0] - prev[0] < 0.012 && Math.abs(p[1] - prev[1]) < 25) cur.push(p);
      else {
        if (cur.length > 1) segs.push(cur);
        cur = [p];
      }
    });
    if (cur.length > 1) segs.push(cur);
    segs.forEach((s, si) => {
      for (let k = -1; k <= 2; k++) {
        const pl = d3.line<PaPt>().x((d) => x(d[0])).y((d) => yPA(d[1] + 180 * k));
        paPaths.push(<path key={`${si}-${k}`} d={pl(s) || ""} fill="none" stroke={BLACK} strokeWidth={1.2} />);
      }
    });
  }

  const labelFont = isBottom ? 10 : 5.5;
  const tickLabelX = isBottom ? lay.left - 6.5 : lay.left - 1.6;
  const axisLabelX = isBottom ? lay.left - 22 : lay.left - 8.7;
  const midX = (lay.left + lay.right) / 2;
  const lblFamily = isBottom ? NARROW_FONT : SMALL_FONT;
  const lblWeight = isBottom ? 400 : 700;

  return (
    <g>
      <defs>
        <clipPath id={clipPA}>
          <rect x={lay.left} y={paTop} width={lay.right - lay.left} height={divider - paTop} />
        </clipPath>
        <clipPath id={clipF}>
          <rect x={lay.left} y={divider} width={lay.right - lay.left} height={bottom - divider} />
        </clipPath>
      </defs>

      <g clipPath={`url(#${clipPA})`}>
        {paPaths}
        {paMarks}
      </g>
      <g clipPath={`url(#${clipF})`}>
        <path d={line(prof.V) || ""} fill="none" stroke={BLUE} strokeWidth={1.5} />
        <path d={line(prof.L) || ""} fill="none" stroke={RED} strokeWidth={1.3} />
        <path d={line(prof.I) || ""} fill="none" stroke={BLACK} strokeWidth={1.5} />
      </g>

      {ticksFor(paTop, divider)}
      {ticksFor(divider, bottom)}
      {yTicks(paMinor, yPA, 90, paTop, divider)}
      {yTicks(fMinor, yF, fStep, divider, bottom)}

      <rect x={lay.left} y={paTop} width={lay.right - lay.left} height={divider - paTop} fill="none" stroke={BLACK} strokeWidth={1.9} />
      <rect x={lay.left} y={divider} width={lay.right - lay.left} height={bottom - divider} fill="none" stroke={BLACK} strokeWidth={1.9} />

      {paTickLabels.map((v) => (
        <text key={`pl${v}`} transform={`translate(${tickLabelX},${yPA(v)}) rotate(-90)`} textAnchor="middle" fontFamily={lblFamily} fontWeight={lblWeight} fontSize={labelFont} fill={BLACK}>
          {v}
        </text>
      ))}
      {ft.map((v) => (
        <text key={`fl${v}`} transform={`translate(${tickLabelX},${yF(v)}) rotate(-90)`} textAnchor="middle" fontFamily={lblFamily} fontWeight={lblWeight} fontSize={labelFont} fill={BLACK}>
          {fmtFlux(v, ci === 2 && ri === 2)}
        </text>
      ))}
      <text transform={`translate(${axisLabelX},${(paTop + divider) / 2}) rotate(-90)`} textAnchor="middle" fontFamily={lblFamily} fontWeight={lblWeight} fontSize={isBottom ? 11 : 5.5} textLength={isBottom ? 44 : 33} lengthAdjust="spacingAndGlyphs" fill={BLACK}>
        P.A. (deg.)
      </text>
      <text transform={`translate(${axisLabelX},${(divider + bottom) / 2}) rotate(-90)`} textAnchor="middle" fontFamily={lblFamily} fontWeight={lblWeight} fontSize={isBottom ? 11 : 5.5} fill={BLACK}>
        Flux
      </text>

      {isBottom && (
        <g>
          {xTickLabels[ci].map((v) => (
            <text key={`xl${v}`} x={x(v)} y={bottom + 10.5} textAnchor="middle" fontFamily={SMALL_FONT} fontWeight={700} fontSize={10} fill={BLACK}>
              {String(v)}
            </text>
          ))}
          <text x={midX} y={bottom + 20} textAnchor="middle" fontFamily={SMALL_FONT} fontWeight={700} fontSize={10} textLength={60} lengthAdjust="spacingAndGlyphs" fill={BLACK}>
            Pulse Phase
          </text>
        </g>
      )}
    </g>
  );
}

export default function App() {
  return (
    <svg width={2710} height={944} viewBox="0 0 2710 944" style={{ position: "absolute", left: 0, top: 0, background: "#fff", display: "block" }}>
      <rect x={0} y={0} width={2710} height={944} fill="#ffffff" />
      {pulsarNames.map((n, ci) => (
        <text key={n} x={LAYOUT[ci].titleX} y={LAYOUT[ci].titleY} textAnchor="middle" fontFamily={TITLE_FONT} fontSize={51} textLength={206} lengthAdjust="spacingAndGlyphs" fill="#231f20">
          {n}
        </text>
      ))}
      {bandLabels.map((b, ri) => (
        <text key={b} transform={`translate(${ROW_LABEL.x},${ROW_LABEL.cy[ri]}) rotate(-90)`} textAnchor="middle" fontFamily={TITLE_FONT} fontSize={38} textLength={ROW_LABEL.len[ri]} lengthAdjust="spacingAndGlyphs" fill="#231f20">
          {b}
        </text>
      ))}
      {pulsarNames.map((_, ci) => [0, 1, 2, 3].map((ri) => <Panel key={`${ci}-${ri}`} ci={ci} ri={ri} />))}
    </svg>
  );
}
